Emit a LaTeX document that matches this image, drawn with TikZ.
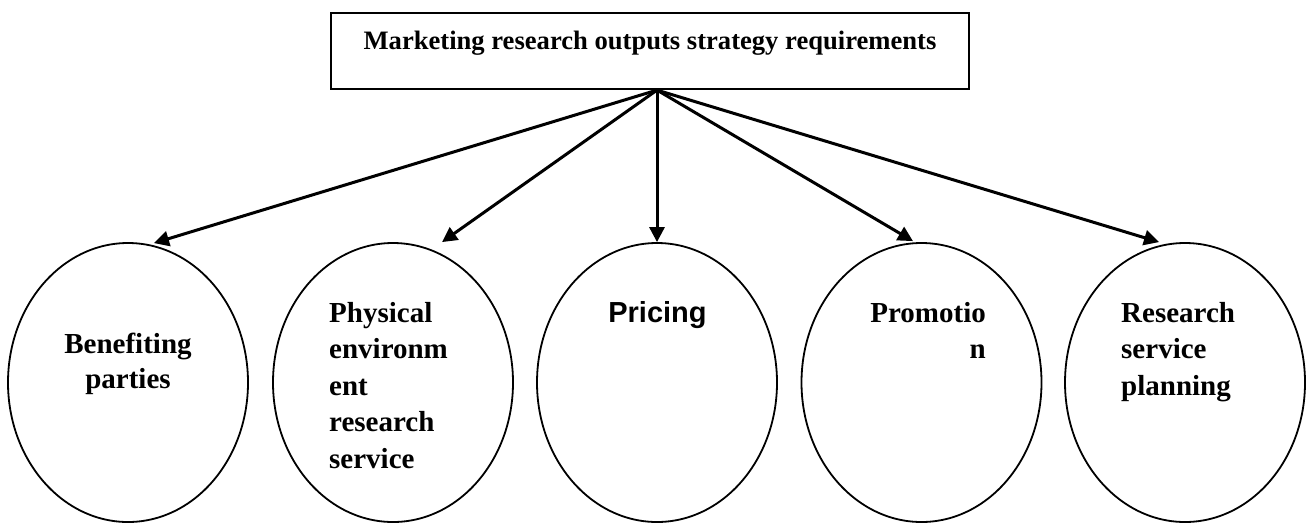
\documentclass[tikz,border=0pt]{standalone}
\usepackage{fontspec}
\setmainfont{Liberation Serif}
\newfontfamily\sansbold{Liberation Sans}
\usetikzlibrary{shapes.geometric,arrows.meta}

\begin{document}
\begin{tikzpicture}[x=1pt,y=-1pt,
  headbox/.style={draw,line width=2.2pt,minimum width=638pt,minimum height=76pt,
    inner sep=0pt,text height=20pt,text depth=24pt,
    font=\fontsize{26.6}{32}\selectfont\bfseries},
  topic/.style={draw,ellipse,line width=1.8pt,minimum width=240pt,minimum height=279pt,inner sep=0pt},
  lbl/.style={inner sep=0pt,font=\fontsize{29}{36.5}\selectfont\bfseries},
  link/.style={line width=3pt,-{Triangle[length=15pt,width=15pt]}}]

  % page frame
  \useasboundingbox (0,0) rectangle (1308,523);

  % heading box
  \node[headbox] (head) at (650,51) {Marketing research outputs strategy requirements};

  % the five outputs
  \node[topic] (e1) at (128,382.5) {};
  \node[topic] (e2) at (393,382.5) {};
  \node[topic] (e3) at (657,382.5) {};
  \node[topic] (e4) at (921.5,382.5) {};
  \node[topic] (e5) at (1185,382.5) {};

  % labels inside the ellipses (anchored at the baseline of their last line)
  \node[lbl,align=center,anchor=base,font=\fontsize{29}{35}\selectfont\bfseries] (t1) at (128,388) {Benefiting\\parties};
  \node[lbl,align=left,anchor=base west] (t2) at (329,468) {Physical\\environm\\ent\\research\\service};
  \node[lbl,anchor=base,font=\fontsize{29}{36.5}\selectfont\sansbold\bfseries] (t3) at (657.5,322) {Pricing};
  \node[lbl,align=right,anchor=base east] (t4) at (986,358.5) {Promotio\\n};
  \node[lbl,align=left,anchor=base west] (t5) at (1121,395) {Research\\service\\planning};

  % arrows from the heading
  \coordinate (src) at (head.south -| e3.north);
  \draw[link] (src) -- ([xshift=26pt,yshift=-1pt]e1.north);
  \draw[link] (src) -- ([xshift=49pt]e2.north);
  \draw[link] (src) -- (e3.north);
  \draw[link] (src) -- ([xshift=-8.5pt,yshift=1pt]e4.north);
  \draw[link] (src) -- ([xshift=-26pt]e5.north);
\end{tikzpicture}
\end{document}
